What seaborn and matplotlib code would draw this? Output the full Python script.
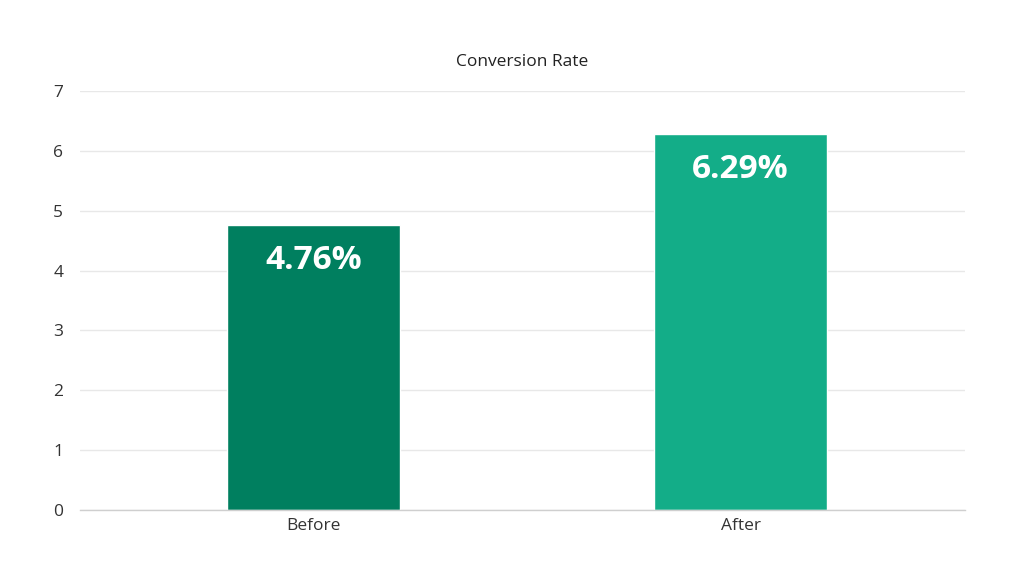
import matplotlib
matplotlib.use("Agg")
import matplotlib.pyplot as plt
import seaborn as sns
import pandas as pd

# chart data
categories = ["Before", "After"]
rates = [4.76, 6.29]
value_labels = ["4.76%", "6.29%"]
bar_colors = ["#007f5f", "#13ad88"]
y_ticks = [0, 1, 2, 3, 4, 5, 6, 7]

sns.set_theme(style="white")
plt.rcParams["font.family"] = ["Open Sans", "DejaVu Sans"]

df = pd.DataFrame({"stage": categories, "rate": rates})

fig = plt.figure(figsize=(10.24, 5.76), dpi=100)
ax = fig.add_axes([0.078, 0.1146, 0.864, 0.7274])

sns.barplot(data=df, x="stage", y="rate", hue="stage", palette=bar_colors,
            width=0.405, legend=False, ax=ax, saturation=1)

# value labels inside bars
for i, (v, lab) in enumerate(zip(rates, value_labels)):
    ax.text(i, v - 0.6, lab, ha="center", va="center", color="white",
            fontsize=24, fontweight="bold")

ax.set_ylim(0, 7)
ax.set_xlim(-0.548, 1.525)
ax.set_yticks(y_ticks)
ax.yaxis.grid(True, color="#e8e8e8", linewidth=1)
ax.set_axisbelow(True)
for s in ["top", "right", "left"]:
    ax.spines[s].set_visible(False)
ax.spines["bottom"].set_color("#cfcfcf")
ax.spines["bottom"].set_linewidth(1)
ax.tick_params(axis="both", length=0, labelsize=12.5, colors="#333333")
ax.tick_params(axis="y", pad=12)
ax.tick_params(axis="x", pad=6)
ax.set_xlabel("")
ax.set_ylabel("")
ax.set_title("Conversion Rate", fontsize=12.5, color="#222222", pad=18)

fig.savefig("out.png", dpi=100, facecolor="white")
